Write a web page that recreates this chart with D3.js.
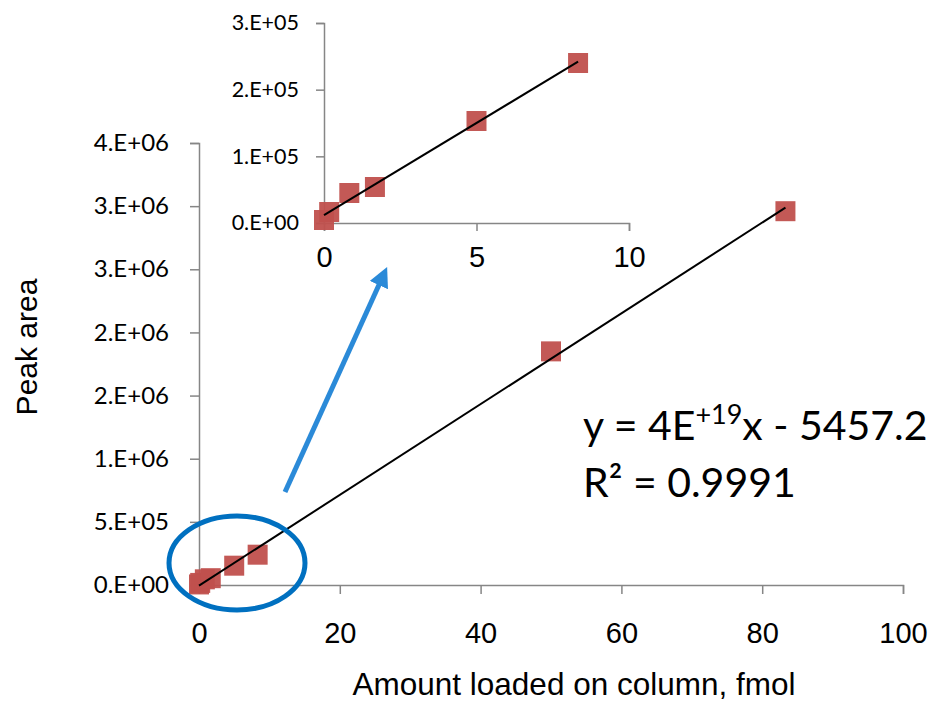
<!DOCTYPE html>
<html lang="en">
<head>
<meta charset="UTF-8">
<title>Peak area calibration</title>
<script src="https://cdn.jsdelivr.net/npm/d3@7"></script>
<style>
  body { margin: 0; background: #fff; }
  text { font-family: "Liberation Sans", Arial, sans-serif; fill: #000; }
  .eq { font-family: Lato, "Open Sans", sans-serif; }
</style>
</head>
<body>
<svg width="940" height="701"></svg>
<script>
// amount loaded (fmol) and measured peak area
var amounts = [0, 0.17, 0.83, 1.67, 5, 8.33, 50, 83.3];
var areas = [4500, 16500, 45000, 54000, 153000, 240000, 1850000, 2960000];
var mainXTicks = [0, 20, 40, 60, 80, 100];
var mainYTicks = [0, 5e5, 1e6, 1.5e6, 2e6, 2.5e6, 3e6, 3.5e6];
var insetXTicks = [0, 5, 10];
var insetYTicks = [0, 1e5, 2e5, 3e5];

var data = amounts.map(function (a, i) { return { x: a, y: areas[i] }; });

var svg = d3.select('svg');
var axisColor = '#868686';
var markColor = '#c0504d';

// Excel style "0.E+00"
function sci(v) {
    if (v === 0) return '0.E+00';
    var e = Math.floor(Math.log10(v));
    var m = Math.round(v / Math.pow(10, e) + 1e-9);
    if (m >= 10) { m = 1; e += 1; }
    return m + '.E+' + (e < 10 ? '0' : '') + e;
}

function fit(pts) {
    var mx = d3.mean(pts, function (d) { return d.x; });
    var my = d3.mean(pts, function (d) { return d.y; });
    var sxy = d3.sum(pts, function (d) { return (d.x - mx) * (d.y - my); });
    var sxx = d3.sum(pts, function (d) { return (d.x - mx) * (d.x - mx); });
    var b = sxy / sxx;
    return { b: b, a: my - b * mx };
}

function styleAxis(g) {
    g.select('.domain').attr('stroke', axisColor).attr('stroke-width', 1.5);
    g.selectAll('.tick line').attr('stroke', axisColor).attr('stroke-width', 1.5);
}

function drawChart(cfg) {
    var x = d3.scaleLinear().domain(cfg.xDomain).range(cfg.xRange);
    var y = d3.scaleLinear().domain(cfg.yDomain).range(cfg.yRange);

    var gx = svg.append('g')
        .attr('transform', 'translate(0,' + cfg.yRange[0] + ')')
        .call(d3.axisBottom(x).tickValues(cfg.xTicks).tickSize(cfg.tick).tickPadding(cfg.xPad).tickFormat(d3.format('d')));
    styleAxis(gx);
    gx.selectAll('text').style('font-size', cfg.xFont + 'px').attr('fill', '#000')
        .style('font-family', '"Liberation Sans", Arial, sans-serif');

    var gy = svg.append('g')
        .attr('transform', 'translate(' + cfg.xRange[0] + ',0)')
        .call(d3.axisLeft(y).tickValues(cfg.yTicks).tickSize(cfg.tick).tickPadding(cfg.yPad).tickFormat(sci));
    styleAxis(gy);
    gy.selectAll('text').style('font-size', cfg.yFont + 'px').attr('fill', '#000')
        .style('font-family', 'Lato, "Open Sans", sans-serif');

    var s = 20;
    svg.append('g').selectAll('rect').data(cfg.pts).enter().append('rect')
        .attr('x', function (d) { return x(d.x) - s / 2; })
        .attr('y', function (d) { return y(d.y) - s / 2; })
        .attr('width', s).attr('height', s)
        .attr('fill', markColor).attr('opacity', 0.95);

    var f = fit(cfg.pts);
    var x0 = 0, x1 = d3.max(cfg.pts, function (d) { return d.x; });
    svg.append('line')
        .attr('x1', x(x0)).attr('y1', y(f.a + f.b * x0))
        .attr('x2', x(x1)).attr('y2', y(f.a + f.b * x1))
        .attr('stroke', '#000').attr('stroke-width', 2);
}

// main chart
drawChart({
    xDomain: [0, 100], xRange: [199, 903],
    yDomain: [0, 3.5e6], yRange: [585, 143],
    xTicks: mainXTicks, yTicks: mainYTicks, tick: 9,
    pts: data, xFont: 29, yFont: 24, xPad: 28, yPad: 21
});

// inset
drawChart({
    xDomain: [0, 10], xRange: [324, 629],
    yDomain: [0, 3e5], yRange: [223, 23],
    xTicks: insetXTicks, yTicks: insetYTicks, tick: 8,
    pts: data.filter(function (d) { return d.x <= 10; }),
    xFont: 29, yFont: 21.5, xPad: 15, yPad: 17
});

// axis titles
svg.append('text').attr('x', 574).attr('y', 695).attr('text-anchor', 'middle')
    .style('font-size', '31.5px').text('Amount loaded on column, fmol');
svg.append('text').attr('transform', 'translate(37,347) rotate(-90)').attr('text-anchor', 'middle')
    .style('font-size', '30px').text('Peak area');

// regression equation
var eq = svg.append('text').attr('class', 'eq').attr('x', 583).attr('y', 440).style('font-size', '41px');
eq.append('tspan').text('y = 4E');
eq.append('tspan').attr('dy', -16).style('font-size', '27px').text('+19');
eq.append('tspan').attr('dy', 16).text('x - 5457.2');
svg.append('text').attr('class', 'eq').attr('x', 583).attr('y', 497).style('font-size', '41px')
    .text('R\u00b2 = 0.9991');

// highlight ellipse and arrow
svg.append('ellipse').attr('cx', 237).attr('cy', 563).attr('rx', 68).attr('ry', 47)
    .attr('fill', 'none').attr('stroke', '#0070c0').attr('stroke-width', 5);
svg.append('defs').append('marker').attr('id', 'ah')
    .attr('viewBox', '0 0 10 10').attr('refX', 5).attr('refY', 5)
    .attr('markerWidth', 4).attr('markerHeight', 4).attr('orient', 'auto')
    .append('path').attr('d', 'M0,0L10,5L0,10z').attr('fill', '#2b8ad8');
svg.append('line').attr('x1', 285).attr('y1', 492).attr('x2', 383).attr('y2', 276)
    .attr('stroke', '#2b8ad8').attr('stroke-width', 5).attr('marker-end', 'url(#ah)');
</script>
</body>
</html>
